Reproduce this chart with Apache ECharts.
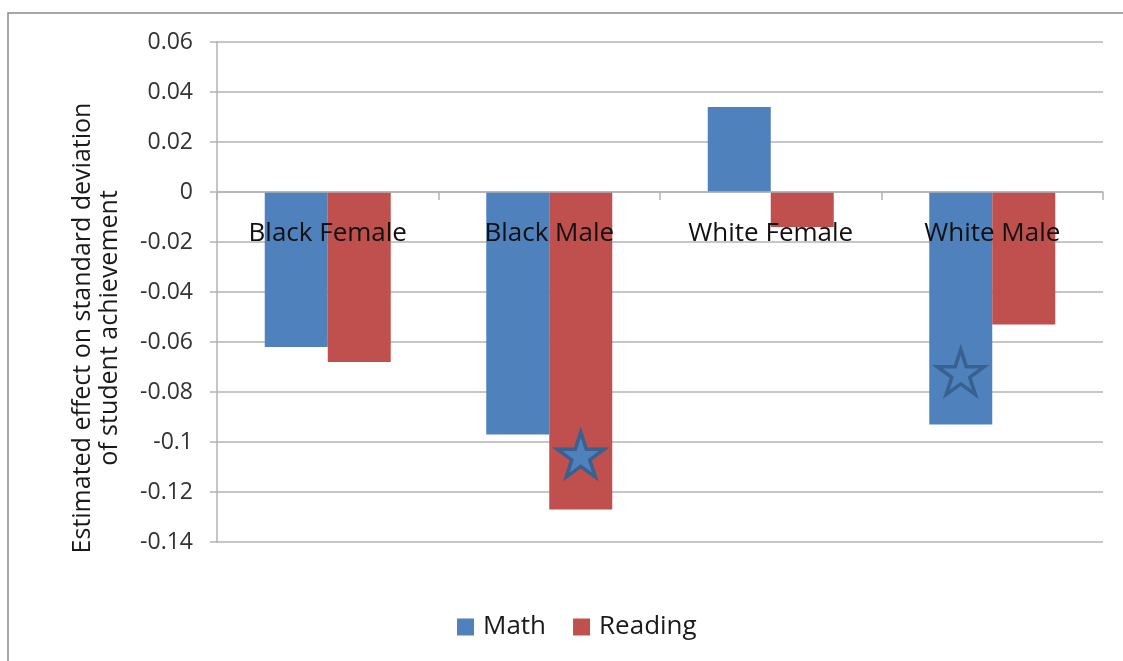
<!DOCTYPE html>
<html>
<head>
<meta charset="utf-8">
<script src="https://cdn.jsdelivr.net/npm/echarts@6/dist/echarts.min.js"></script>
<style>
html,body{margin:0;padding:0;background:#fff;}
#chart{width:1123px;height:661px;}
</style>
</head>
<body>
<div id="chart"></div>
<script>
var categories = ['Black Female', 'Black Male', 'White Female', 'White Male'];
var mathValues = [-0.062, -0.097, 0.034, -0.093];
var readingValues = [-0.068, -0.127, -0.014, -0.053];
// significance stars: [category, value]
var mathStars = [['White Male', -0.072]];
var readingStars = [['Black Male', -0.105]];
var yTickLabels = ['-0.14', '-0.12', '-0.1', '-0.08', '-0.06', '-0.04', '-0.02', '0', '0.02', '0.04', '0.06'];
var yMin = -0.14, yMax = 0.06, yStep = 0.02;
var yAxisTitle = 'Estimated effect on standard deviation\nof student achievement';

var FONT = 'Open Sans';
var BLUE = '#4F81BD', RED = '#C0504D', STAR_EDGE = '#38618F';
var GRID = '#b3b3b3';
var BAR_W = 63;
var GRID_TOP = 42, GRID_BOTTOM = 119, CHART_H = 661;
var starPath = 'path://M50 0 L61.23 34.55 L97.55 34.55 L68.17 55.9 L79.39 90.45 L50 69.1 L20.61 90.45 L31.83 55.9 L2.45 34.55 L38.77 34.55 Z';

var plotH = CHART_H - GRID_TOP - GRID_BOTTOM;
// distance from the bottom of the plot to the zero line
var zeroFromBottom = plotH * (0 - yMin) / (yMax - yMin);

var chart = echarts.init(document.getElementById('chart'), null, {renderer: 'canvas'});
var option = {
  animation: false,
  backgroundColor: '#fff',
  textStyle: {fontFamily: FONT},
  graphic: [{
    type: 'rect', silent: true, z: 100,
    shape: {x: 8, y: 13, width: 1300, height: 800},
    style: {fill: 'none', stroke: '#8a8a8a', lineWidth: 1.5}
  }],
  grid: {left: 217, right: 20, top: GRID_TOP, bottom: GRID_BOTTOM, containLabel: false},
  legend: {
    data: ['Math', 'Reading'],
    left: 452, top: 609,
    itemWidth: 17, itemHeight: 17, itemGap: 27,
    icon: 'rect',
    textStyle: {fontFamily: FONT, fontSize: 26, color: '#1a1a1a', padding: [0, 0, 0, 4]}
  },
  xAxis: {
    type: 'category',
    data: categories,
    z: 10,
    offset: -zeroFromBottom,
    axisLine: {onZero: false, lineStyle: {color: GRID, width: 1.5}},
    axisTick: {show: true, length: 8, lineStyle: {color: GRID, width: 1.5}},
    axisLabel: {fontFamily: FONT, fontSize: 26, color: '#111', margin: 29},
    splitLine: {show: false}
  },
  yAxis: {
    type: 'value',
    min: yMin, max: yMax, interval: yStep,
    name: yAxisTitle,
    nameLocation: 'middle',
    nameRotate: 90,
    nameGap: 94,
    nameTextStyle: {fontFamily: FONT, fontSize: 25, color: '#1a1a1a', lineHeight: 27, padding: [0, 72, 0, 0]},
    axisLine: {show: true, lineStyle: {color: GRID, width: 1.5}},
    axisTick: {show: true, length: 7, lineStyle: {color: GRID, width: 1.5}},
    axisLabel: {
      fontFamily: FONT, fontSize: 23, color: '#333', margin: 24,
      formatter: function (v) {
        var idx = Math.round((v - yMin) / yStep);
        return yTickLabels[idx] !== undefined ? yTickLabels[idx] : '';
      }
    },
    splitLine: {show: true, lineStyle: {color: GRID, width: 1.5}}
  },
  series: [
    {name: 'Math', type: 'bar', data: mathValues, barWidth: BAR_W, barGap: '0%',
     itemStyle: {color: BLUE}, z: 2},
    {name: 'Reading', type: 'bar', data: readingValues, barWidth: BAR_W, barGap: '0%',
     itemStyle: {color: RED}, z: 2},
    {name: 'MathStar', type: 'scatter', data: mathStars, symbol: starPath,
     symbolSize: [47, 45], symbolOffset: [-BAR_W / 2, 0], z: 5,
     itemStyle: {color: BLUE, opacity: 1, borderColor: STAR_EDGE, borderWidth: 3.5}},
    {name: 'ReadingStar', type: 'scatter', data: readingStars, symbol: starPath,
     symbolSize: [47, 45], symbolOffset: [BAR_W / 2, 0], z: 5,
     itemStyle: {color: BLUE, opacity: 1, borderColor: STAR_EDGE, borderWidth: 3.5}}
  ]
};
chart.setOption(option);
</script>
</body>
</html>
